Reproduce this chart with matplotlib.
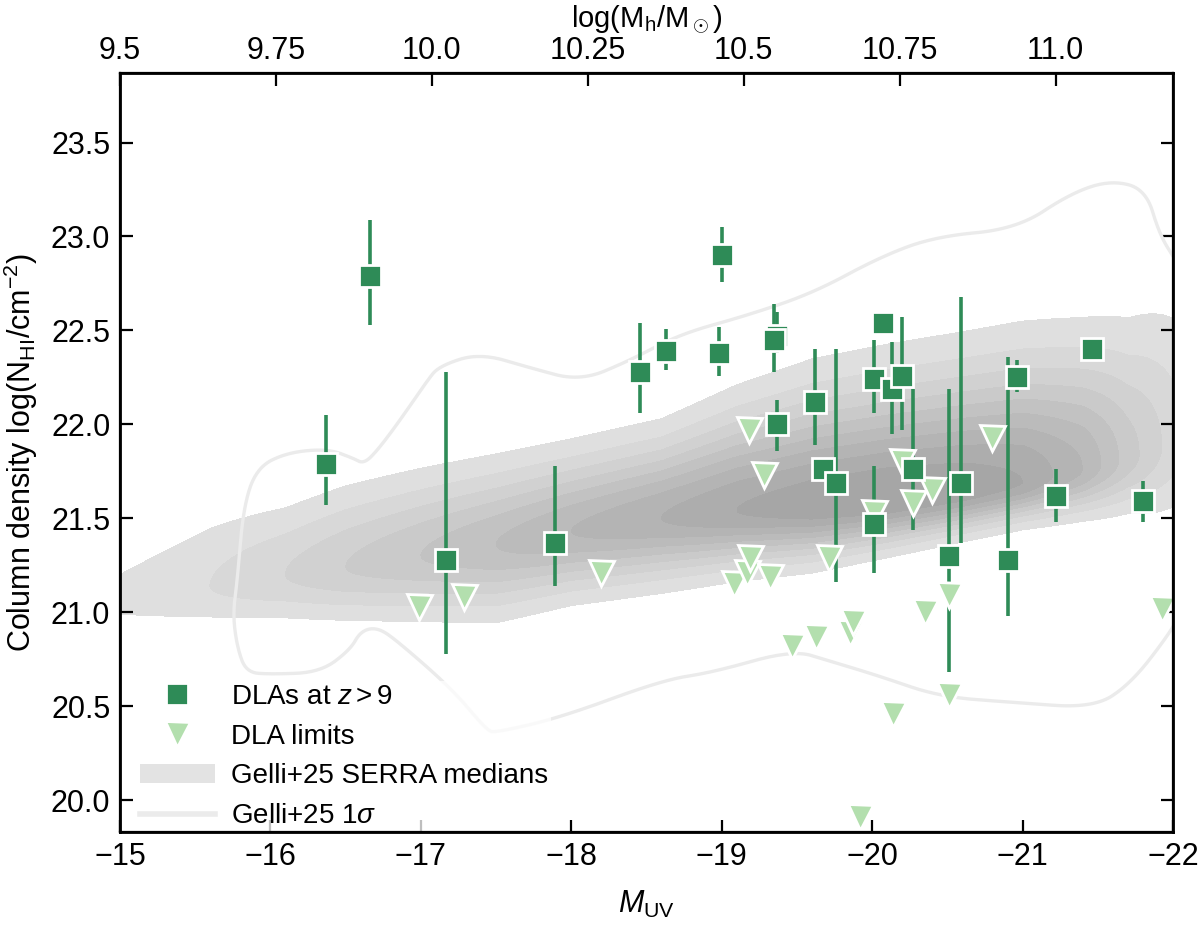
import matplotlib.pyplot as plt
import numpy as np
from matplotlib.patches import Patch
from matplotlib.lines import Line2D

plt.rcParams['font.family'] = ['Liberation Sans', 'DejaVu Sans']
plt.rcParams['mathtext.fontset'] = 'custom'
plt.rcParams['mathtext.rm'] = 'Liberation Sans'
plt.rcParams['mathtext.it'] = 'Liberation Sans:italic'

# DLA detections: M_UV, log N_HI, lower / upper error bar ends
dla_muv = [-16.37, -16.66, -17.17, -17.89, -18.46, -18.63, -18.98, -19.00, -19.37, -19.35,
           -19.37, -19.62, -19.67, -19.76, -20.07, -20.01, -20.13, -20.20, -20.27, -20.59,
           -20.01, -20.51, -20.90, -20.96, -21.46, -21.22, -21.80]
dla_nhi = [21.79, 22.79, 21.28, 21.37, 22.28, 22.39, 22.38, 22.90, 22.47, 22.45,
           22.00, 22.12, 21.76, 21.69, 22.54, 22.24, 22.19, 22.26, 21.76, 21.69,
           21.47, 21.30, 21.28, 22.25, 22.40, 21.62, 21.59]
dla_lo = [21.57, 22.53, 20.78, 21.14, 22.06, 22.29, 22.26, 22.76, 22.38, 22.28,
          21.86, 21.89, 21.70, 21.16, 22.54, 22.06, 21.95, 21.97, 21.44, 21.37,
          21.21, 20.68, 20.98, 22.17, 22.40, 21.48, 21.48]
dla_hi = [22.05, 23.09, 22.28, 21.78, 22.54, 22.51, 22.52, 23.05, 22.60, 22.64,
          22.13, 22.40, 21.82, 22.40, 22.54, 22.45, 22.44, 22.57, 22.19, 22.68,
          21.78, 22.19, 22.36, 22.34, 22.40, 21.76, 21.70]

# upper limits
lim_muv = [-16.99, -17.29, -18.20, -19.08, -19.17, -19.19, -19.32, -19.18, -19.28, -19.47,
           -19.63, -19.71, -19.85, -19.87, -19.92, -20.01, -20.14, -20.20, -20.27, -20.35,
           -20.40, -20.51, -20.51, -20.80, -21.93]
lim_nhi = [21.03, 21.08, 21.21, 21.15, 21.21, 21.29, 21.19, 21.97, 21.73, 20.82,
           20.87, 21.29, 20.89, 20.95, 19.91, 21.53, 20.46, 21.80, 21.58, 21.00,
           21.65, 21.09, 20.56, 21.93, 21.02]

# SERRA medians: ridge of the distribution (centre, upper / lower spread, peak density)
ridge_muv = [-14.5, -15.0, -15.6, -16.1, -16.5, -17.0, -17.5, -18.0, -18.6, -19.1,
             -19.6, -20.1, -20.6, -21.0, -21.4, -21.7, -22.0, -22.5]
ridge_nhi = [21.02, 21.07, 21.14, 21.20, 21.24, 21.30, 21.36, 21.43, 21.50, 21.54,
             21.56, 21.59, 21.64, 21.69, 21.76, 21.82, 21.90, 21.95]
ridge_sup = [0.18, 0.18, 0.26, 0.24, 0.26, 0.26, 0.255, 0.25, 0.26, 0.32,
             0.37, 0.39, 0.40, 0.41, 0.41, 0.43, 0.49, 0.55]
ridge_sdn = [0.11, 0.11, 0.14, 0.155, 0.17, 0.195, 0.22, 0.20, 0.196, 0.18,
             0.165, 0.14, 0.125, 0.12, 0.14, 0.17, 0.25, 0.28]
ridge_amp = [0.1, 0.13, 0.2, 0.3, 0.4, 0.5, 0.6, 0.7, 0.8, 0.9,
             0.97, 1.0, 0.97, 0.9, 0.7, 0.45, 0.25, 0.2]

# Gelli+25 1 sigma contour
sig_muv = [-22.3, -22.05, -21.98, -21.72, -21.47, -20.94, -20.45, -20.05, -19.72, -19.47,
           -18.94, -18.61, -17.93, -17.50, -17.44, -17.21, -16.84, -16.71, -16.60, -16.53,
           -16.33, -16.00, -15.84, -15.78, -15.75, -15.78, -15.82, -15.91, -16.11, -16.38,
           -16.55, -16.62, -16.71, -16.86, -17.04, -17.12, -17.39, -17.73, -18.06, -18.39,
           -18.72, -19.17, -19.61, -20.05, -20.42, -20.96, -21.32, -21.59, -21.82, -21.91,
           -22.02, -22.3]
sig_nhi = [21.3, 21.00, 20.89, 20.62, 20.49, 20.52, 20.55, 20.66, 20.74, 20.80,
           20.68, 20.64, 20.44, 20.36, 20.37, 20.59, 20.85, 20.92, 20.90, 20.80,
           20.68, 20.67, 20.68, 20.81, 20.99, 21.17, 21.56, 21.77, 21.85, 21.87,
           21.82, 21.79, 21.86, 22.02, 22.23, 22.31, 22.38, 22.30, 22.23, 22.34,
           22.48, 22.58, 22.70, 22.89, 23.00, 23.04, 23.23, 23.30, 23.25, 23.01,
           22.87, 22.5]

mh_ticks = [9.5, 9.75, 10.0, 10.25, 10.5, 10.75, 11.0]
mh_labels = ['9.5', '9.75', '10.0', '10.25', '10.5', '10.75', '11.0']

green = '#2e8b57'
light = '#b3dfae'

fig = plt.figure(figsize=(6, 4.68), dpi=200)
ax = fig.add_axes([0.1, 0.111, 0.8775, 0.811])

# density field built from the ridge description
gx = np.linspace(-14.4, -22.6, 400)
gy = np.linspace(19.5, 24.0, 400)
X, Y = np.meshgrid(gx, gy)
xp = np.array(ridge_muv)[::-1]
c = np.interp(X, xp, np.array(ridge_nhi)[::-1])
su = np.interp(X, xp, np.array(ridge_sup)[::-1])
sd = np.interp(X, xp, np.array(ridge_sdn)[::-1])
amp = np.interp(X, xp, np.array(ridge_amp)[::-1])
d = np.where(Y > c, (Y - c) / su, (Y - c) / sd)
Z = amp * np.exp(-0.5 * d ** 2)
levels = np.linspace(0.1, 1.0, 10)
shades = [str(v) for v in np.linspace(0.875, 0.65, 9)]
ax.contourf(X, Y, Z, levels=levels, colors=shades, zorder=1)

# smooth the 1 sigma outline (Chaikin corner cutting)
pts = np.column_stack([sig_muv, sig_nhi])
for _ in range(4):
    q = 0.75 * pts[:-1] + 0.25 * pts[1:]
    r = 0.25 * pts[:-1] + 0.75 * pts[1:]
    new = np.empty((2 * len(q), 2))
    new[0::2] = q
    new[1::2] = r
    pts = np.vstack([pts[:1], new, pts[-1:]])
ax.plot(pts[:, 0], pts[:, 1], color='#ebebeb', lw=1.2, zorder=2)

# error bars, limits, detections
dla_muv = np.array(dla_muv)
dla_nhi = np.array(dla_nhi)
yerr = [dla_nhi - np.array(dla_lo), np.array(dla_hi) - dla_nhi]
ax.errorbar(dla_muv, dla_nhi, yerr=yerr, fmt='none', ecolor=green, elinewidth=1.3,
            capsize=0, zorder=3)
ax.plot(lim_muv, lim_nhi, 'v', ms=9, color=light, mec='white', mew=1.0, zorder=4)
ax.plot(dla_muv, dla_nhi, 's', ms=8, color=green, mec='white', mew=1.0, zorder=5)

ax.set_xlim(-15, -22)
ax.set_ylim(19.83, 23.87)
ax.set_yticks([20.0, 20.5, 21.0, 21.5, 22.0, 22.5, 23.0, 23.5])
ax.set_xlabel(r'$M_{\rm UV}$', fontsize=11, labelpad=6)
ax.set_ylabel(r'Column density log(N$_{\rm HI}$/cm$^{-2}$)', fontsize=11)
ax.tick_params(direction='in', length=4.5, width=0.8, labelsize=11, right=True, top=False)
for s in ax.spines.values():
    s.set_linewidth(1.0)

ax2 = ax.twiny()
ax2.set_xlim(9.5, 9.5 + 7 * 0.2412)
ax2.set_xticks(mh_ticks)
ax2.set_xticklabels(mh_labels)
ax2.tick_params(direction='in', length=4.5, width=0.8, labelsize=11, pad=2.5)
ax2.set_xlabel(r'log(M$_{\rm h}$/M$_\odot$)', fontsize=10.5, labelpad=3)

handles = [
    Line2D([], [], marker='s', ls='none', ms=8, color=green, mec='white', mew=1.0),
    Line2D([], [], marker='v', ls='none', ms=9, color=light, mec='white', mew=1.0),
    Patch(facecolor='0.89', edgecolor='none'),
    Line2D([], [], color='#ebebeb', lw=2),
]
labels = [r'DLAs at $z>9$', 'DLA limits', 'Gelli+25 SERRA medians', r'Gelli+25 1$\sigma$']
leg = ax.legend(handles, labels, loc='lower left', bbox_to_anchor=(0.016, 0.0),
                fontsize=10, frameon=True, framealpha=0.75, edgecolor='none',
                handlelength=2.7, handletextpad=0.6, borderpad=0.1, borderaxespad=0)
leg.set_zorder(6)

fig.savefig('out.png', dpi=200)
